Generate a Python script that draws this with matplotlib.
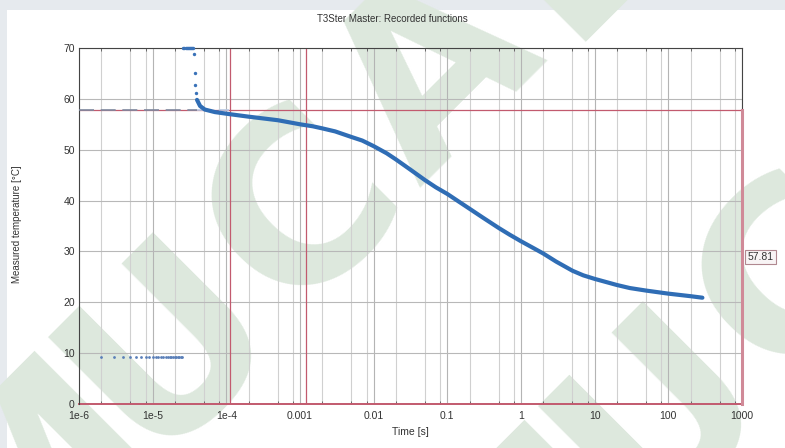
import matplotlib.pyplot as plt
import matplotlib.patches as patches
from matplotlib.ticker import FixedLocator, NullFormatter

plt.rcParams['font.family'] = ['Liberation Sans', 'DejaVu Sans']

# --- recorded points ---
# early samples, before the heating pulse is switched off
early_t = [2e-6, 3e-6, 4e-6, 5e-6, 6e-6, 7e-6, 8e-6, 9e-6, 10e-6, 11e-6, 12e-6, 13e-6,
           14e-6, 15e-6, 16e-6, 17e-6, 18e-6, 19e-6, 20e-6, 21e-6, 22e-6, 23e-6, 24e-6, 25e-6]
early_T = [9.3, 9.3, 9.3, 9.3, 9.3, 9.3, 9.3, 9.3, 9.3, 9.3, 9.3, 9.3,
           9.3, 9.3, 9.3, 9.3, 9.3, 9.3, 9.3, 9.3, 9.3, 9.3, 9.3, 9.3]

# samples saturated at the top of the range, then the electrical transient
spike_t = [26e-6, 27e-6, 28e-6, 29e-6, 30e-6, 31e-6, 32e-6, 33e-6, 34e-6, 35e-6,
           36e-6, 37e-6, 38e-6, 39e-6]
spike_T = [70, 70, 70, 70, 70, 70, 70, 70, 70, 70,
           68.8, 65.0, 62.7, 61.2]

# cooling curve
cool_t = [4.0e-5, 4.4e-5, 5.1e-5, 7e-5, 1.1e-4, 2e-4, 5e-4, 1e-3, 1.5e-3, 2e-3, 3e-3,
          5e-3, 7e-3, 1e-2, 1.5e-2, 2e-2, 3e-2, 5e-2, 7e-2, 0.1, 0.15, 0.2, 0.3, 0.5, 0.7,
          1, 1.5, 2, 3, 5, 7, 10, 15, 20, 30, 50, 100, 200, 290]
cool_T = [59.8, 58.6, 57.9, 57.4, 57.0, 56.5, 55.8, 55.0, 54.6, 54.2, 53.6,
          52.5, 51.8, 50.7, 49.3, 48.1, 46.3, 44.0, 42.6, 41.3, 39.6, 38.4, 36.7, 34.6, 33.3,
          32.0, 30.6, 29.6, 28.0, 26.2, 25.3, 24.6, 23.9, 23.4, 22.8, 22.3, 21.7, 21.2, 20.9]

cursor_T = 57.81
cursor_t = [1.12e-4, 1.2e-3]

x_ticks = [1e-6, 1e-5, 1e-4, 1e-3, 1e-2, 0.1, 1, 10, 100, 1000]
x_labels = ['1e-6', '1e-5', '1e-4', '0.001', '0.01', '0.1', '1', '10', '100', '1000']
y_ticks = [0, 10, 20, 30, 40, 50, 60, 70]

fig = plt.figure(figsize=(7.85, 4.48), dpi=100)
fig.patch.set_facecolor('#e6eaee')
fig.patches.append(patches.Rectangle((7 / 785, 0), 1, 438 / 448, transform=fig.transFigure,
                                     facecolor='white', edgecolor='none', zorder=-5))

# watermark lettering behind the plot, one rotated letter at a time along two diagonals
wm_letters = ['M', 'U', 'C', 'A', 'L', 'M', 'U', 'C']
wm_px = [(36, 479), (170, 345), (304, 211), (438, 77), (572, -57),
         (526, 548), (660, 414), (794, 280)]
for ch, (px, py) in zip(wm_letters, wm_px):
    fig.text(px / 785, 1 - py / 448, ch, rotation=45, ha='center', va='center',
             fontsize=170, fontweight='bold', family='DejaVu Sans',
             color='#dde8dd', zorder=-1)

ax = fig.add_axes([79 / 785, 44 / 448, 663 / 785, 356 / 448])
ax.set_facecolor('none')
ax.set_xscale('log')
ax.set_xlim(1e-6, 1000)
ax.set_ylim(0, 70)

# grid: decades, plus 2, 5 and 8 inside each decade
minor = [m * 10.0 ** e for e in range(-6, 3) for m in (2, 5, 8)]
for xv in minor:
    ax.axvline(xv, color='#d0d0d0', lw=0.8, zorder=1)
for xv in x_ticks:
    ax.axvline(xv, color='#b4b4b4', lw=0.8, zorder=1)
for yv in y_ticks[1:]:
    ax.axhline(yv, color='#b8b8b8', lw=0.8, zorder=1)

# cursors
red = '#c25a6e'
ax.axhline(cursor_T, color=red, lw=0.9, zorder=2)
for xv in cursor_t:
    ax.axvline(xv, color=red, lw=0.9, zorder=2)
ax.axhline(0, color=red, lw=1.4, zorder=2, clip_on=False)
ax.axvline(1000, ymin=0, ymax=cursor_T / 70, color='#d08a98', lw=2.2, zorder=4, clip_on=False)

# reference level of the initial temperature
ax.plot([1e-6, 4e-5], [cursor_T, cursor_T], color='#7e8aa0', lw=1.2, dashes=(9, 4), zorder=3)
ax.plot([4e-5, 1.1e-4], [cursor_T, cursor_T], color='#b9cbe4', lw=1.2, dashes=(9, 4), zorder=3)

# measured points
ax.scatter(early_t, early_T, s=4, color='#5a7fb8', zorder=5, linewidths=0)
ax.scatter(spike_t, spike_T, s=6, color='#3a72b8', zorder=5, linewidths=0, clip_on=False)
ax.plot(cool_t, cool_T, color='#2f6db5', lw=3.0, solid_capstyle='round',
        solid_joinstyle='round', zorder=5)

ax.annotate(f'{cursor_T:.2f}', xy=(1000, cursor_T / 2), xytext=(4, 0), textcoords='offset points',
            ha='left', va='center', fontsize=7.5, color='#333333',
            bbox=dict(boxstyle='square,pad=0.2', facecolor='#f8f4f5', edgecolor='#b08890', lw=0.8),
            annotation_clip=False, zorder=6)

ax.xaxis.set_major_locator(FixedLocator(x_ticks))
ax.xaxis.set_minor_locator(FixedLocator(minor))
ax.xaxis.set_minor_formatter(NullFormatter())
ax.set_xticklabels(x_labels)
ax.set_yticks(y_ticks)
ax.tick_params(axis='both', which='major', labelsize=7.5, length=0, pad=3, colors='#333333')
ax.tick_params(axis='x', which='major', pad=5)
ax.tick_params(axis='x', which='minor', direction='in', length=2.5, top=True, color='#555555')
ax.tick_params(axis='y', which='major', direction='in', right=True)

for s in ax.spines.values():
    s.set_color('#444444')
    s.set_linewidth(0.8)
ax.spines['bottom'].set_visible(False)

ax.set_xlabel('Time [s]', fontsize=7.5, labelpad=4, color='#333333')
fig.text(17 / 785, 0.5, 'Measured temperature [°C]', rotation=90, ha='center', va='center',
         fontsize=7, color='#333333')
fig.text(0.5, 1 - 19 / 448, 'T3Ster Master: Recorded functions', ha='center', va='center',
         fontsize=7, color='#333333')

fig.savefig('out.png', dpi=100, facecolor=fig.get_facecolor())
